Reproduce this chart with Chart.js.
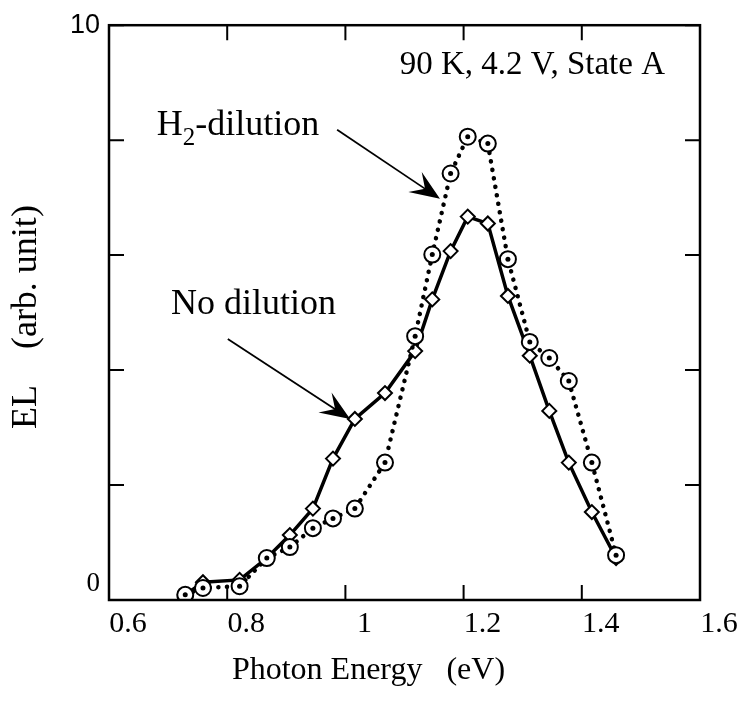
<!DOCTYPE html>
<html>
<head>
<meta charset="utf-8">
<script src="https://cdn.jsdelivr.net/npm/chart.js@4.4.0/dist/chart.umd.min.js"></script>
<style>
  html, body { margin: 0; padding: 0; background: #fff; }
</style>
</head>
<body>
<canvas id="elChart" width="745" height="702"></canvas>
<script>
// photon energy (eV), same for both runs
const energy = [0.729, 0.759, 0.821, 0.867, 0.906, 0.945, 0.979, 1.016, 1.067, 1.118,
                1.147, 1.178, 1.207, 1.241, 1.275, 1.312, 1.345, 1.378, 1.417, 1.458];
// H2-dilution (circles, dotted)
const elH2 = [0.09, 0.21, 0.24, 0.73, 0.92, 1.25, 1.42, 1.59, 2.39, 4.59,
              6.01, 7.42, 8.06, 7.94, 5.93, 4.49, 4.21, 3.81, 2.39, 0.78];
// no dilution (diamonds, solid)
const elNone = [0.09, 0.31, 0.35, 0.73, 1.13, 1.59, 2.46, 3.15, 3.60, 4.33,
                5.23, 6.07, 6.67, 6.55, 5.29, 4.25, 3.29, 2.39, 1.53, 0.73];
const xTicks = [0.6, 0.8, 1.0, 1.2, 1.4, 1.6];
const yTicks = [0, 2, 4, 6, 8, 10];

const serif = '"Liberation Serif", "Times New Roman", serif';

function pts(ys) {
  return energy.map((e, i) => ({ x: e, y: ys[i] }));
}

// box round the plot and inward tick marks
const frame = {
  id: 'frame',
  afterDraw(chart) {
    const { ctx, chartArea: a, scales } = chart;
    ctx.save();
    ctx.strokeStyle = '#000';
    ctx.lineWidth = 2.5;
    ctx.strokeRect(a.left, a.top, a.right - a.left, a.bottom - a.top);
    ctx.lineWidth = 2;
    ctx.beginPath();
    scales.x.ticks.forEach(t => {
      const px = scales.x.getPixelForValue(t.value);
      ctx.moveTo(px, a.bottom); ctx.lineTo(px, a.bottom - 15);
      ctx.moveTo(px, a.top); ctx.lineTo(px, a.top + 15);
    });
    scales.y.ticks.forEach(t => {
      const py = scales.y.getPixelForValue(t.value);
      ctx.moveTo(a.left, py); ctx.lineTo(a.left + 15, py);
      ctx.moveTo(a.right, py); ctx.lineTo(a.right - 15, py);
    });
    ctx.stroke();
    ctx.restore();
  }
};

function arrow(ctx, x1, y1, x2, y2) {
  const ang = Math.atan2(y2 - y1, x2 - x1);
  ctx.beginPath();
  ctx.moveTo(x1, y1);
  ctx.lineTo(x2 - 16 * Math.cos(ang), y2 - 16 * Math.sin(ang));
  ctx.lineWidth = 1.8;
  ctx.stroke();
  ctx.save();
  ctx.translate(x2, y2);
  ctx.rotate(ang);
  ctx.beginPath();
  ctx.moveTo(0, 0);
  ctx.lineTo(-30, -12);
  ctx.lineTo(-18, 0);
  ctx.lineTo(-30, 12);
  ctx.closePath();
  ctx.fill();
  ctx.restore();
}

// notes and arrows, placed in data units
const notes = {
  id: 'notes',
  afterDraw(chart) {
    const { ctx, scales: { x, y } } = chart;
    ctx.save();
    ctx.fillStyle = '#000';
    ctx.strokeStyle = '#000';
    ctx.textBaseline = 'alphabetic';
    ctx.font = '33px ' + serif;
    ctx.fillText('90 K, 4.2 V, State A', x.getPixelForValue(1.092), y.getPixelForValue(9.15));

    // H2-dilution with subscript
    ctx.font = '36px ' + serif;
    let hx = x.getPixelForValue(0.681);
    const hy = y.getPixelForValue(8.09);
    ctx.fillText('H', hx, hy);
    hx += ctx.measureText('H').width;
    ctx.font = '25px ' + serif;
    ctx.fillText('2', hx, hy + 10);
    hx += ctx.measureText('2').width;
    ctx.font = '36px ' + serif;
    ctx.fillText('-dilution', hx, hy);

    ctx.fillText('No dilution', x.getPixelForValue(0.705), y.getPixelForValue(4.98));

    arrow(ctx, x.getPixelForValue(0.986), y.getPixelForValue(8.18),
               x.getPixelForValue(1.160), y.getPixelForValue(6.98));
    arrow(ctx, x.getPixelForValue(0.801), y.getPixelForValue(4.54),
               x.getPixelForValue(1.008), y.getPixelForValue(3.15));
    ctx.restore();
  }
};

new Chart(document.getElementById('elChart'), {
  type: 'scatter',
  data: {
    datasets: [
      {
        label: 'No dilution',
        data: pts(elNone),
        order: 3,
        showLine: true,
        borderColor: '#000',
        borderWidth: 3.5,
        pointStyle: 'rectRot',
        pointRadius: 7,
        pointBorderWidth: 2,
        pointBorderColor: '#000',
        pointBackgroundColor: '#fff'
      },
      {
        label: 'H2-dilution',
        data: pts(elH2),
        order: 2,
        showLine: true,
        borderColor: '#000',
        borderWidth: 4.5,
        borderDash: [0.1, 8.5],
        borderCapStyle: 'round',
        pointStyle: 'circle',
        pointRadius: 8,
        pointBorderWidth: 2,
        pointBorderColor: '#000',
        pointBackgroundColor: '#fff'
      },
      {
        label: 'H2-dilution centres',
        data: pts(elH2),
        order: 1,
        showLine: false,
        pointStyle: 'circle',
        pointRadius: 2.5,
        pointBorderWidth: 0,
        pointBackgroundColor: '#000'
      }
    ]
  },
  options: {
    responsive: false,
    animation: false,
    devicePixelRatio: 1,
    layout: { padding: { top: 23, right: 45, left: 0, bottom: 0 } },
    plugins: {
      legend: { display: false },
      tooltip: { enabled: false }
    },
    scales: {
      x: {
        type: 'linear',
        min: 0.6,
        max: 1.6,
        afterBuildTicks: s => { s.ticks = xTicks.map(v => ({ value: v })); },
        afterFit: s => { s.height = 102; },
        grid: { display: false, drawTicks: false },
        border: { display: false },
        ticks: {
          color: '#000',
          font: { family: serif, size: 30 },
          padding: 6,
          labelOffset: 19,
          maxRotation: 0,
          callback: v => String(+v.toFixed(1))
        },
        title: {
          display: true,
          text: 'Photon Energy   (eV)' + '\u00a0'.repeat(9),
          color: '#000',
          font: { family: serif, size: 32 },
          padding: { top: 0, bottom: 12 }
        }
      },
      y: {
        type: 'linear',
        min: 0,
        max: 10,
        afterBuildTicks: s => { s.ticks = yTicks.map(v => ({ value: v })); },
        afterFit: s => { s.width = 109; },
        grid: { display: false, drawTicks: false },
        border: { display: false },
        ticks: {
          color: '#000',
          padding: 9,
          font: c => (c.tick && c.tick.value === 10)
            ? { family: '"Liberation Sans", Arial, sans-serif', size: 27 }
            : { family: serif, size: 27 },
          callback: v => v === 10 ? '10' : (v === 0 ? ['0', ''] : '')
        },
        title: {
          display: true,
          text: 'EL    (arb. unit)\u00a0',
          color: '#000',
          font: { family: serif, size: 36 },
          padding: { top: 5, bottom: 0 }
        }
      }
    }
  },
  plugins: [frame, notes]
});
</script>
</body>
</html>
